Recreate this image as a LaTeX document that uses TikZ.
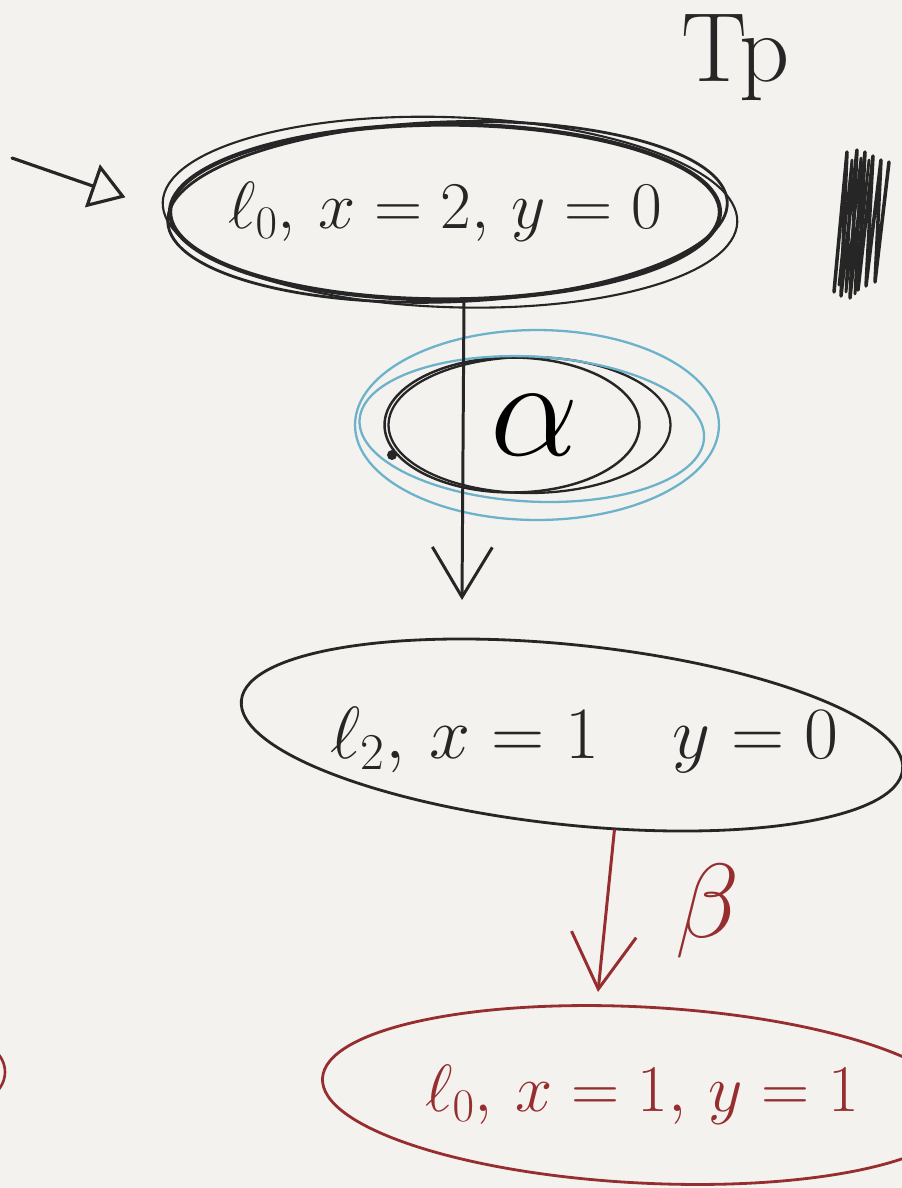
\RequirePackage{fix-cm}
\documentclass[tikz,border=0pt]{standalone}
\usetikzlibrary{positioning,arrows.meta,shapes.geometric}
\definecolor{paper}{RGB}{244,242,238}
\definecolor{ink}{RGB}{38,38,38}
\definecolor{redink}{RGB}{150,46,48}
\definecolor{blueink}{RGB}{108,178,202}

\begin{document}
\begin{tikzpicture}[
  x=0.02cm, y=-0.02cm,
  line cap=round, line join=round,
  state/.style={draw=ink, ellipse, line width=1.6pt, inner sep=0pt},
  redstate/.style={state, draw=redink},
  statetxt/.style={font=\fontsize{38}{40}\selectfont, text=ink, inner sep=0pt},
  redtxt/.style={statetxt, text=redink},
  actlbl/.style={draw=ink, ellipse, line width=1.4pt, inner sep=0pt,
                 minimum width=5.1cm, minimum height=2.7cm,
                 font=\fontsize{80}{80}\selectfont},
  arr/.style={draw=ink, line width=1.7pt, -{Straight Barb[length=10mm,width=12mm]}},
  redarr/.style={arr, draw=redink, -{Straight Barb[length=11mm,width=13mm]}},
  initarr/.style={draw=ink, line width=1.8pt,
                  -{Triangle[open,length=7mm,width=9mm]}, shorten >=0.9cm}
]
\useasboundingbox (0,0) rectangle (902,1188);
\fill[paper] (0,0) rectangle (902,1188);
\clip (0,0) rectangle (902,1188);

\node[font=\fontsize{56}{58}\selectfont, text=ink] (tp) at (736,58) {Tp};

\node[state, line width=2.4pt, minimum width=11cm, minimum height=3.5cm,
      label={[statetxt]center:$\ell_0,\, x=2,\, y=0$}] (s0) at (445,212) {};
\draw[ink, line width=1.2pt, rotate around={-2:(s0.center)}]
  ([xshift=0.1cm]s0.center) ellipse [x radius=5.75cm, y radius=1.9cm];
\draw[ink, line width=1.6pt, rotate around={2:(s0.center)}]
  ([xshift=0.05cm]s0.center) ellipse [x radius=5.6cm, y radius=1.8cm];

\coordinate (init) at (12,158);
\draw[initarr] (init) -- (s0.west);

\draw[ink, line width=2pt]
  (834,292) -- (847,152) -- (841,296) -- (857,150) -- (850,298) -- (865,152)
  -- (858,290) -- (873,156) -- (866,286) -- (881,160) -- (875,282) -- (889,162);
\draw[ink, line width=1.6pt]
  (839,285) -- (852,160) -- (846,292) -- (861,158) -- (855,294) -- (869,160);

\node[actlbl] (alpha) at (512,425) {\hspace*{0.9cm}$\alpha$};
\draw[ink, line width=1.3pt] ([xshift=0.35cm]alpha.center)
  ellipse [x radius=2.82cm, y radius=1.36cm];
\draw[blueink, line width=1.3pt] ([xshift=0.5cm]alpha.center)
  ellipse [x radius=3.64cm, y radius=1.9cm];
\draw[blueink, line width=1.3pt, rotate around={-3:(alpha.center)}]
  ([xshift=0.4cm,yshift=-0.06cm]alpha.center) ellipse [x radius=3.45cm, y radius=1.45cm];
\fill[ink] (392,455) circle [radius=0.1cm];

\node[state, minimum width=13.3cm, minimum height=3.6cm, rotate=-6,
      label={[statetxt, font=\fontsize{42}{44}\selectfont, xshift=0.25cm, yshift=-0.1cm]center:$\ell_2,\, x=1\quad y=0$}]
  (s2) at (572,735) {};

\coordinate (a1) at (462,600);
\draw[arr] (s0.-78) -- (a1);

\node[redstate, minimum width=12.8cm, minimum height=3.52cm, rotate=-3,
      label={[redtxt]center:$\ell_0,\, x=1,\, y=1$}]
  (s3) at (642,1095) {};

\coordinate (b1) at (598,992);
\draw[redarr] (s2.-60) -- node[right=1.35cm, inner sep=0pt, text=redink,
  font=\fontsize{60}{60}\selectfont] (beta) {$\beta$} (b1);

\draw[redink, line width=1.5pt] (-35,1072) ellipse [x radius=0.8cm, y radius=0.65cm];
\end{tikzpicture}
\end{document}
